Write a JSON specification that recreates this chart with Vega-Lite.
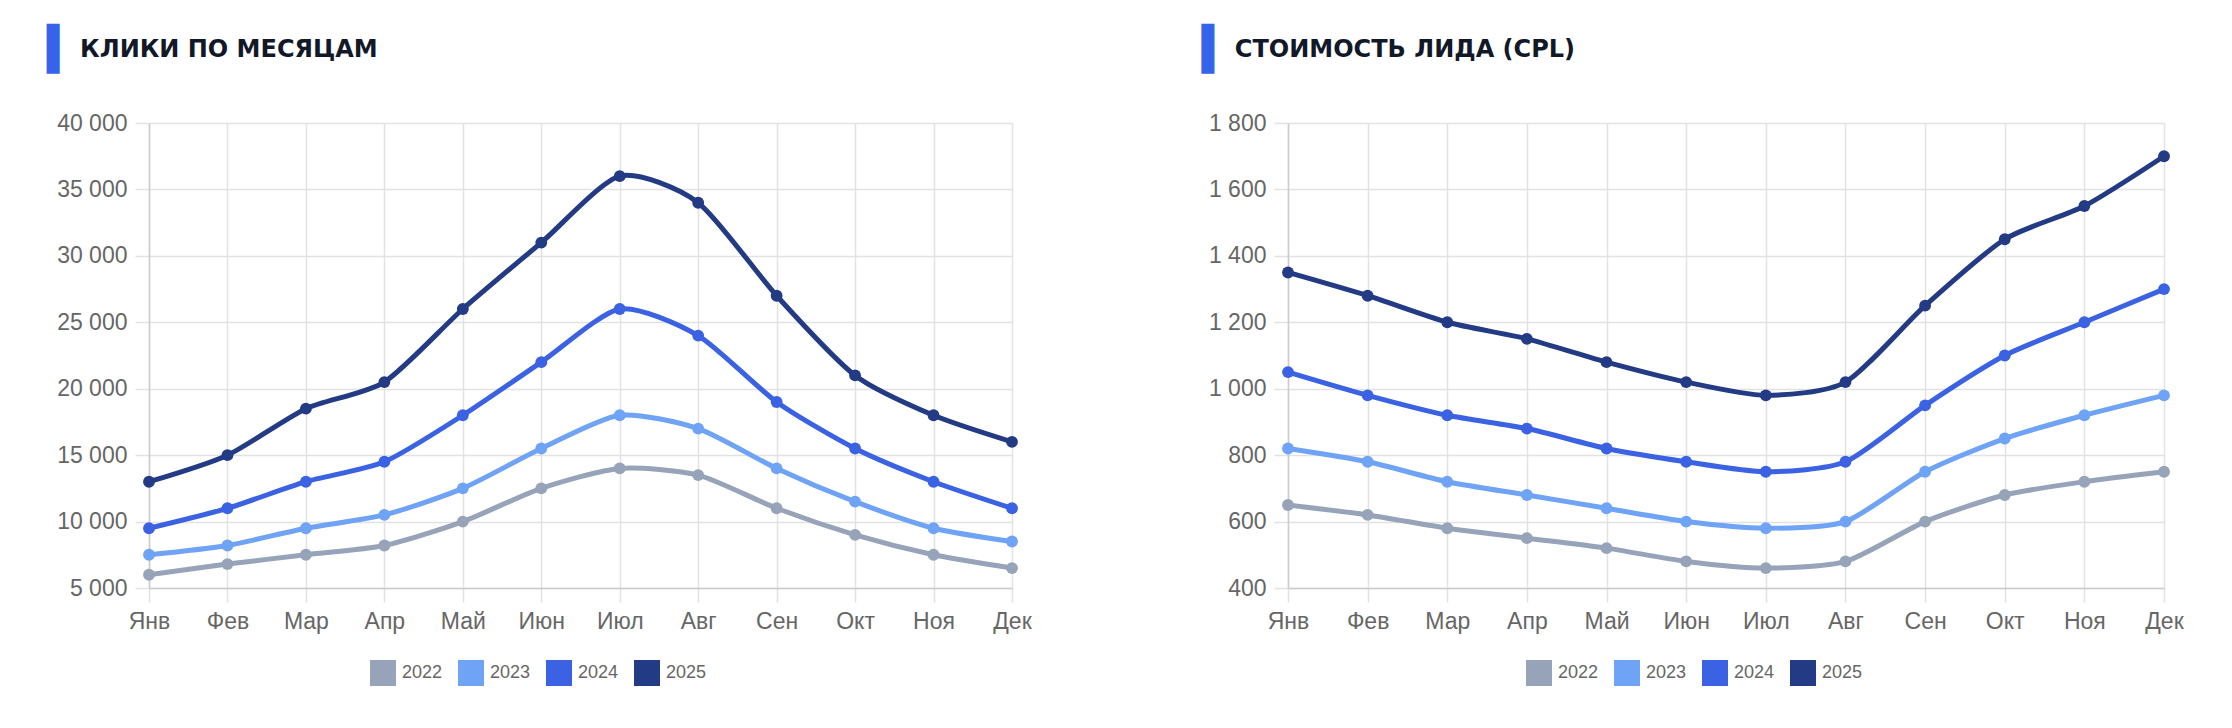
{
  "$schema": "https://vega.github.io/schema/vega-lite/v6.json",
  "background": "white",
  "padding": {"left": 46, "top": 29, "right": 10, "bottom": 10},
  "datasets": {
    "clicks": [
      {"month": "Янв", "year": "2022", "value": 6000},
      {"month": "Фев", "year": "2022", "value": 6800},
      {"month": "Мар", "year": "2022", "value": 7500},
      {"month": "Апр", "year": "2022", "value": 8200},
      {"month": "Май", "year": "2022", "value": 10000},
      {"month": "Июн", "year": "2022", "value": 12500},
      {"month": "Июл", "year": "2022", "value": 14000},
      {"month": "Авг", "year": "2022", "value": 13500},
      {"month": "Сен", "year": "2022", "value": 11000},
      {"month": "Окт", "year": "2022", "value": 9000},
      {"month": "Ноя", "year": "2022", "value": 7500},
      {"month": "Дек", "year": "2022", "value": 6500},
      {"month": "Янв", "year": "2023", "value": 7500},
      {"month": "Фев", "year": "2023", "value": 8200},
      {"month": "Мар", "year": "2023", "value": 9500},
      {"month": "Апр", "year": "2023", "value": 10500},
      {"month": "Май", "year": "2023", "value": 12500},
      {"month": "Июн", "year": "2023", "value": 15500},
      {"month": "Июл", "year": "2023", "value": 18000},
      {"month": "Авг", "year": "2023", "value": 17000},
      {"month": "Сен", "year": "2023", "value": 14000},
      {"month": "Окт", "year": "2023", "value": 11500},
      {"month": "Ноя", "year": "2023", "value": 9500},
      {"month": "Дек", "year": "2023", "value": 8500},
      {"month": "Янв", "year": "2024", "value": 9500},
      {"month": "Фев", "year": "2024", "value": 11000},
      {"month": "Мар", "year": "2024", "value": 13000},
      {"month": "Апр", "year": "2024", "value": 14500},
      {"month": "Май", "year": "2024", "value": 18000},
      {"month": "Июн", "year": "2024", "value": 22000},
      {"month": "Июл", "year": "2024", "value": 26000},
      {"month": "Авг", "year": "2024", "value": 24000},
      {"month": "Сен", "year": "2024", "value": 19000},
      {"month": "Окт", "year": "2024", "value": 15500},
      {"month": "Ноя", "year": "2024", "value": 13000},
      {"month": "Дек", "year": "2024", "value": 11000},
      {"month": "Янв", "year": "2025", "value": 13000},
      {"month": "Фев", "year": "2025", "value": 15000},
      {"month": "Мар", "year": "2025", "value": 18500},
      {"month": "Апр", "year": "2025", "value": 20500},
      {"month": "Май", "year": "2025", "value": 26000},
      {"month": "Июн", "year": "2025", "value": 31000},
      {"month": "Июл", "year": "2025", "value": 36000},
      {"month": "Авг", "year": "2025", "value": 34000},
      {"month": "Сен", "year": "2025", "value": 27000},
      {"month": "Окт", "year": "2025", "value": 21000},
      {"month": "Ноя", "year": "2025", "value": 18000},
      {"month": "Дек", "year": "2025", "value": 16000}
    ],
    "cpl": [
      {"month": "Янв", "year": "2022", "value": 650},
      {"month": "Фев", "year": "2022", "value": 620},
      {"month": "Мар", "year": "2022", "value": 580},
      {"month": "Апр", "year": "2022", "value": 550},
      {"month": "Май", "year": "2022", "value": 520},
      {"month": "Июн", "year": "2022", "value": 480},
      {"month": "Июл", "year": "2022", "value": 460},
      {"month": "Авг", "year": "2022", "value": 480},
      {"month": "Сен", "year": "2022", "value": 600},
      {"month": "Окт", "year": "2022", "value": 680},
      {"month": "Ноя", "year": "2022", "value": 720},
      {"month": "Дек", "year": "2022", "value": 750},
      {"month": "Янв", "year": "2023", "value": 820},
      {"month": "Фев", "year": "2023", "value": 780},
      {"month": "Мар", "year": "2023", "value": 720},
      {"month": "Апр", "year": "2023", "value": 680},
      {"month": "Май", "year": "2023", "value": 640},
      {"month": "Июн", "year": "2023", "value": 600},
      {"month": "Июл", "year": "2023", "value": 580},
      {"month": "Авг", "year": "2023", "value": 600},
      {"month": "Сен", "year": "2023", "value": 750},
      {"month": "Окт", "year": "2023", "value": 850},
      {"month": "Ноя", "year": "2023", "value": 920},
      {"month": "Дек", "year": "2023", "value": 980},
      {"month": "Янв", "year": "2024", "value": 1050},
      {"month": "Фев", "year": "2024", "value": 980},
      {"month": "Мар", "year": "2024", "value": 920},
      {"month": "Апр", "year": "2024", "value": 880},
      {"month": "Май", "year": "2024", "value": 820},
      {"month": "Июн", "year": "2024", "value": 780},
      {"month": "Июл", "year": "2024", "value": 750},
      {"month": "Авг", "year": "2024", "value": 780},
      {"month": "Сен", "year": "2024", "value": 950},
      {"month": "Окт", "year": "2024", "value": 1100},
      {"month": "Ноя", "year": "2024", "value": 1200},
      {"month": "Дек", "year": "2024", "value": 1300},
      {"month": "Янв", "year": "2025", "value": 1350},
      {"month": "Фев", "year": "2025", "value": 1280},
      {"month": "Мар", "year": "2025", "value": 1200},
      {"month": "Апр", "year": "2025", "value": 1150},
      {"month": "Май", "year": "2025", "value": 1080},
      {"month": "Июн", "year": "2025", "value": 1020},
      {"month": "Июл", "year": "2025", "value": 980},
      {"month": "Авг", "year": "2025", "value": 1020},
      {"month": "Сен", "year": "2025", "value": 1250},
      {"month": "Окт", "year": "2025", "value": 1450},
      {"month": "Ноя", "year": "2025", "value": 1550},
      {"month": "Дек", "year": "2025", "value": 1700}
    ]
  },
  "hconcat": [
    {
      "title": {
        "text": "▌",
        "subtitle": "\u200b\u00a0\u00a0\u00a0\u00a0КЛИКИ ПО МЕСЯЦАМ",
        "dx": -10
      },
      "data": {"name": "clicks"},
      "width": 863,
      "height": 465,
      "mark": {"type": "line", "interpolate": "cardinal", "tension": 0.3, "strokeWidth": 5,
               "point": {"filled": true, "size": 140}},
      "encoding": {
        "x": {
          "field": "month", "type": "ordinal", "title": null,
          "sort": ["Янв", "Фев", "Мар", "Апр", "Май", "Июн", "Июл", "Авг", "Сен", "Окт", "Ноя", "Дек"],
          "scale": {"type": "point", "padding": 0},
          "axis": {"labelAngle": 0}
        },
        "y": {
          "field": "value", "type": "quantitative", "title": null,
          "scale": {"domain": [5000, 40000], "nice": false, "zero": false},
          "axis": {"values": [5000, 10000, 15000, 20000, 25000, 30000, 35000, 40000],
                   "labelExpr": "replace(format(datum.value, ','), ',', ' ')"}
        },
        "color": {
          "field": "year", "type": "nominal", "title": null,
          "scale": {"domain": ["2022", "2023", "2024", "2025"],
                    "range": ["#97a3b8", "#6ea3f6", "#3a62e3", "#233a84"]},
          "legend": {"orient": "none", "legendX": 221, "legendY": 537}
        }
      }
    },
    {
      "title": {
        "text": "▌",
        "subtitle": "\u200b\u00a0\u00a0\u00a0\u00a0СТОИМОСТЬ ЛИДА (CPL)",
        "dx": -7
      },
      "data": {"name": "cpl"},
      "width": 876,
      "height": 465,
      "mark": {"type": "line", "interpolate": "cardinal", "tension": 0.3, "strokeWidth": 5,
               "point": {"filled": true, "size": 140}},
      "encoding": {
        "x": {
          "field": "month", "type": "ordinal", "title": null,
          "sort": ["Янв", "Фев", "Мар", "Апр", "Май", "Июн", "Июл", "Авг", "Сен", "Окт", "Ноя", "Дек"],
          "scale": {"type": "point", "padding": 0},
          "axis": {"labelAngle": 0}
        },
        "y": {
          "field": "value", "type": "quantitative", "title": null,
          "scale": {"domain": [400, 1800], "nice": false, "zero": false},
          "axis": {"values": [400, 600, 800, 1000, 1200, 1400, 1600, 1800],
                   "labelExpr": "replace(format(datum.value, ','), ',', ' ')"}
        },
        "color": {
          "field": "year", "type": "nominal", "title": null,
          "scale": {"domain": ["2022", "2023", "2024", "2025"],
                    "range": ["#97a3b8", "#6ea3f6", "#3a62e3", "#233a84"]},
          "legend": {"orient": "none", "legendX": 238, "legendY": 537}
        }
      }
    }
  ],
  "spacing": 276,
  "bounds": "flush",
  "resolve": {"legend": {"color": "independent"}},
  "config": {
    "view": {"stroke": null},
    "title": {
      "anchor": "start",
      "frame": "bounds",
      "font": "DejaVu Sans Mono",
      "fontSize": 42,
      "color": "#3563e9",
      "subtitleFont": "DejaVu Sans",
      "subtitleFontSize": 24,
      "subtitleFontWeight": "bold",
      "subtitleColor": "#111827",
      "subtitlePadding": -34,
      "offset": 40
    },
    "axis": {
      "labelFont": "Liberation Sans",
      "labelFontSize": 23,
      "labelColor": "#666666",
      "gridColor": "#e2e2e2",
      "gridWidth": 1.5,
      "tickColor": "#e2e2e2",
      "tickWidth": 1.5,
      "tickSize": 14,
      "domainColor": "#cccccc",
      "domainWidth": 1.5
    },
    "axisX": {"labelPadding": 8, "grid": true},
    "axisY": {"labelPadding": 8},
    "legend": {
      "direction": "horizontal",
      "symbolType": "square",
      "symbolSize": 400,
      "symbolStrokeWidth": 6,
      "symbolFillColor": "#e5e5e5",
      "labelFont": "Liberation Sans",
      "labelFontSize": 18,
      "labelColor": "#666666",
      "labelOffset": 6,
      "columnPadding": 6
    }
  }
}
